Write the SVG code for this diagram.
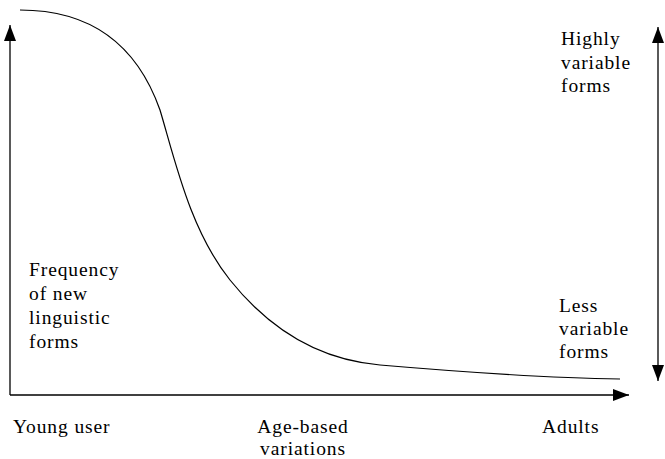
<svg xmlns="http://www.w3.org/2000/svg" width="665" height="459" viewBox="0 0 665 459">
<style>
.t{font-family:"Liberation Serif","Times New Roman",serif;font-size:19.5px;fill:#000;letter-spacing:0.9px}
.ax{stroke:#000;stroke-width:1.3;fill:none}
</style>
<defs>
<marker id="ah" viewBox="0 0 16 12" refX="16" refY="6" markerWidth="16" markerHeight="12" markerUnits="userSpaceOnUse" orient="auto-start-reverse">
<path d="M0,0 L16,6 L0,12 Z" fill="#000"/>
</marker>
</defs>
<rect width="665" height="459" fill="#fff"/>
<g id="connectors">
<line class="ax" x1="10" y1="395" x2="10" y2="25" marker-end="url(#ah)"/>
<line class="ax" x1="10" y1="395" x2="629" y2="395" marker-end="url(#ah)"/>
<line class="ax" x1="658" y1="27" x2="658" y2="381" marker-start="url(#ah)" marker-end="url(#ah)"/>
<path id="curve" d="M20,10 C95,10 138,48 160,110 C175,160 190,230 230,280 C270,330 320,360 380,365 C450,371 550,378 620,379" fill="none" stroke="#000" stroke-width="1.2"/>
</g>
<g id="ylabel"><text class="t" x="29" y="276">Frequency</text><text class="t" x="29" y="300">of new</text><text class="t" x="29" y="324">linguistic</text><text class="t" x="29" y="348">forms</text></g>
<g id="high"><text class="t" x="561" y="45">Highly</text><text class="t" x="561" y="69">variable</text><text class="t" x="561" y="92">forms</text></g>
<g id="less"><text class="t" x="559" y="312">Less</text><text class="t" x="559" y="335">variable</text><text class="t" x="559" y="358">forms</text></g>
<g id="young"><text class="t" x="13" y="433">Young user</text></g>
<g id="age"><text class="t" x="303" y="433" text-anchor="middle">Age-based</text><text class="t" x="303" y="455" text-anchor="middle">variations</text></g>
<g id="adults"><text class="t" x="542" y="433">Adults</text></g>
</svg>
